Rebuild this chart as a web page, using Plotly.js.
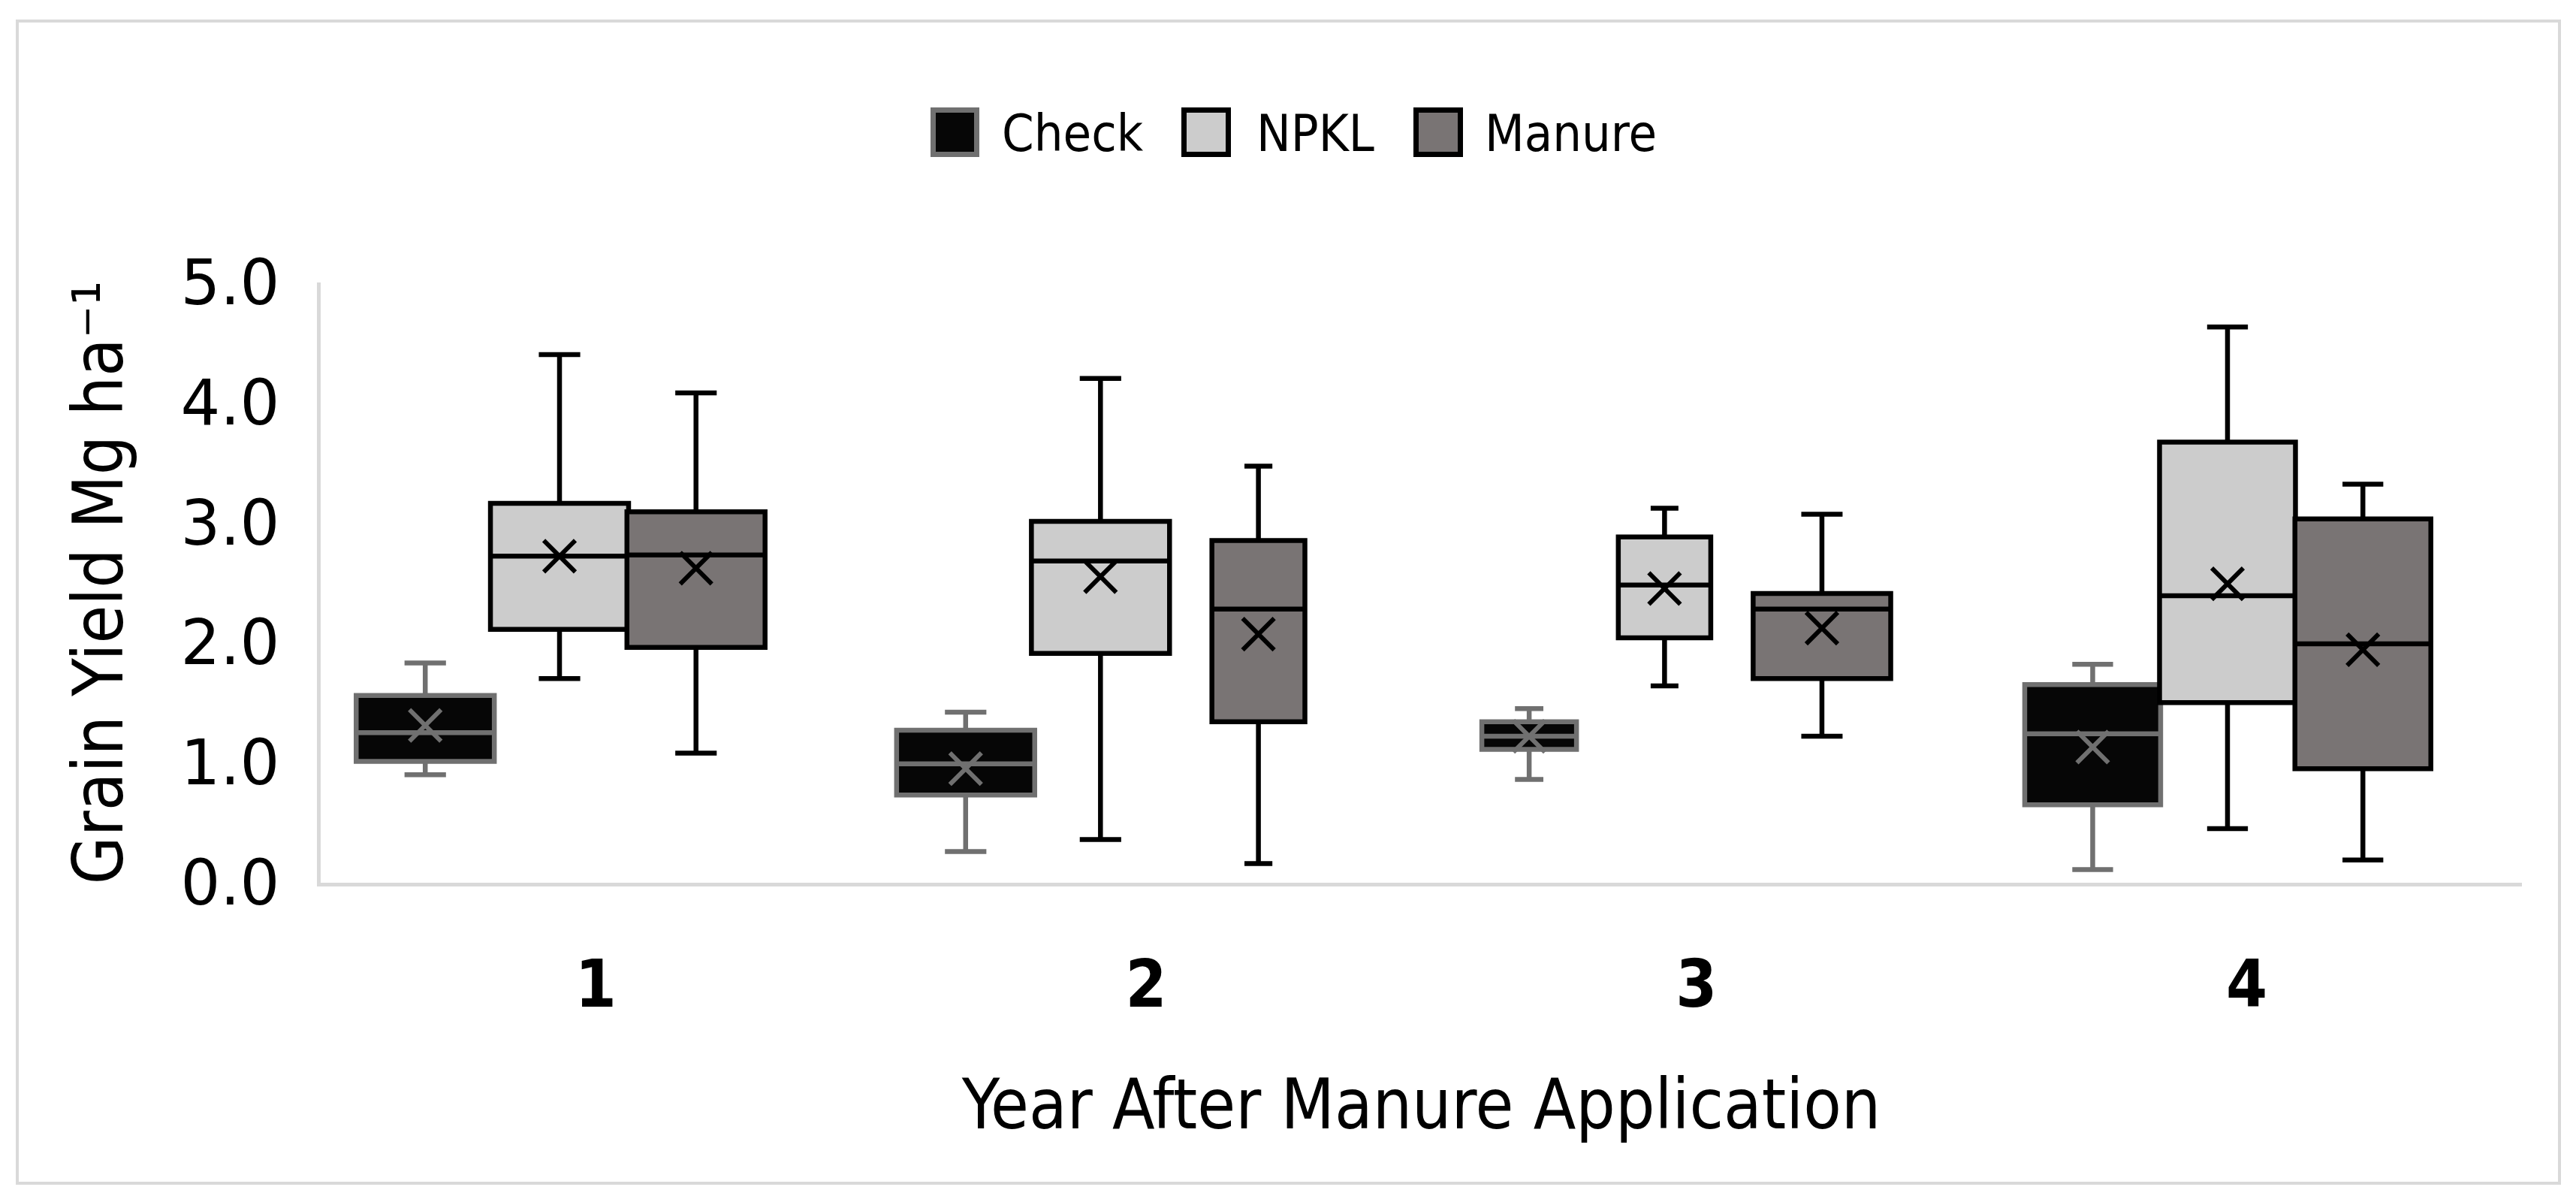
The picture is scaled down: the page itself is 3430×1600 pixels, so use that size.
<!DOCTYPE html>
<html>
<head>
<meta charset="utf-8">
<script src="https://cdn.plot.ly/plotly-3.0.1.min.js"></script>
<style>
  html, body { margin: 0; padding: 0; background: #ffffff; }
  #chart { width: 3430px; height: 1600px; }
</style>
</head>
<body>
<div id="chart"></div>
<script>
// ---------------- DATA ----------------
const years = ['1', '2', '3', '4'];
const seriesNames = ['Check', 'NPKL', 'Manure'];

const checkUpper  = [1.83, 1.42, 1.45, 1.82];
const checkQ3     = [1.56, 1.27, 1.34, 1.65];
const checkMedian = [1.25, 0.99, 1.22, 1.24];
const checkQ1     = [1.01, 0.73, 1.11, 0.65];
const checkLower  = [0.90, 0.26, 0.86, 0.11];
const checkMean   = [1.31, 0.95, 1.22, 1.13];

const npklUpper  = [4.40, 4.20, 3.12, 4.63];
const npklQ3     = [3.16, 3.01, 2.88, 3.67];
const npklMedian = [2.72, 2.68, 2.48, 2.39];
const npklQ1     = [2.11, 1.91, 2.04, 1.50];
const npklLower  = [1.70, 0.36, 1.64, 0.45];
const npklMean   = [2.72, 2.55, 2.45, 2.49];

const manureUpper  = [4.08, 3.47, 3.07, 3.32];
const manureQ3     = [3.09, 2.85, 2.41, 3.03];
const manureMedian = [2.73, 2.28, 2.28, 1.99];
const manureQ1     = [1.96, 1.34, 1.70, 0.95];
const manureLower  = [1.08, 0.16, 1.22, 0.19];
const manureMean   = [2.62, 2.07, 2.12, 1.94];

const yTickVals = [0, 1, 2, 3, 4, 5];

// ---------------- STYLE / LAYOUT ----------------
const stats = {
  Check:  {upper: checkUpper,  q3: checkQ3,  median: checkMedian,  q1: checkQ1,  lower: checkLower,  mean: checkMean},
  NPKL:   {upper: npklUpper,   q3: npklQ3,   median: npklMedian,   q1: npklQ1,   lower: npklLower,   mean: npklMean},
  Manure: {upper: manureUpper, q3: manureQ3, median: manureMedian, q1: manureQ1, lower: manureLower, mean: manureMean}
};

const style = {
  Check:  {fill: '#060606', line: '#707070'},
  NPKL:   {fill: '#cccccc', line: '#000000'},
  Manure: {fill: '#797474', line: '#000000'}
};

// box placement inside each category (category units), per year
const boxOffset = {
  Check:  [-0.310, -0.328, -0.304, -0.280],
  NPKL:   [-0.066, -0.083, -0.058, -0.035],
  Manure: [ 0.182,  0.204,  0.228,  0.211]
};
const boxWidth = {
  Check:  [0.251, 0.251, 0.172, 0.247],
  NPKL:   [0.251, 0.251, 0.168, 0.247],
  Manure: [0.251, 0.169, 0.250, 0.247]
};

const FONT = "'DejaVu Sans Condensed', 'DejaVu Sans', sans-serif";
const PLOT = {l: 427, r: 3358, t: 376, b: 1175, W: 3430, H: 1600};
function px2x(px) { return (px - PLOT.l) / (PLOT.r - PLOT.l); }
function px2y(py) { return (PLOT.b - py) / (PLOT.b - PLOT.t); }

// ---------------- TRACES ----------------
const traces = [];
seriesNames.forEach(function (s) {
  const st = stats[s];
  years.forEach(function (yr, i) {
    const xpos = (i + 1) + boxOffset[s][i];
    traces.push({
      type: 'box',
      name: s,
      legendgroup: s,
      showlegend: false,
      x: [xpos],
      q1: [st.q1[i]],
      median: [st.median[i]],
      q3: [st.q3[i]],
      lowerfence: [st.lower[i]],
      upperfence: [st.upper[i]],
      width: boxWidth[s][i],
      whiskerwidth: 0.3,
      boxpoints: false,
      fillcolor: style[s].fill,
      line: {color: style[s].line, width: 6.5},
      hoverinfo: 'skip'
    });
  });
});
seriesNames.forEach(function (s) {
  traces.push({
    type: 'scatter',
    mode: 'markers',
    name: s + ' mean',
    showlegend: false,
    cliponaxis: false,
    x: years.map(function (yr, i) { return (i + 1) + boxOffset[s][i]; }),
    y: stats[s].mean,
    marker: {
      symbol: 'x-thin-open',
      size: 42,
      color: style[s].line,
      line: {color: style[s].line, width: 6}
    },
    hoverinfo: 'skip'
  });
});

// ---------------- LEGEND (drawn as shapes + text) ----------------
const legendItems = [
  {name: 'Check',  sx0: 1239, sx1: 1304, tx: 1332},
  {name: 'NPKL',   sx0: 1573, sx1: 1639, tx: 1671},
  {name: 'Manure', sx0: 1882, sx1: 1948, tx: 1975}
];
const legendY0 = 143, legendY1 = 209, legendBW = 7;

const shapes = [
  {
    type: 'rect', xref: 'paper', yref: 'paper', layer: 'below',
    x0: px2x(23), x1: px2x(3408), y0: px2y(1575), y1: px2y(28),
    line: {color: '#d9d9d9', width: 4}, fillcolor: 'rgba(0,0,0,0)'
  }
];
const annotations = [];
legendItems.forEach(function (it) {
  shapes.push({
    type: 'rect', xref: 'paper', yref: 'paper', layer: 'above',
    x0: px2x(it.sx0 + legendBW / 2), x1: px2x(it.sx1 - legendBW / 2),
    y0: px2y(legendY1 - legendBW / 2), y1: px2y(legendY0 + legendBW / 2),
    fillcolor: style[it.name].fill,
    line: {color: style[it.name].line, width: legendBW}
  });
  annotations.push({
    xref: 'paper', yref: 'paper', x: px2x(it.tx), y: px2y(177),
    xanchor: 'left', yanchor: 'middle', showarrow: false,
    text: it.name,
    font: {family: FONT, size: 68, color: '#000000'}
  });
});

const layout = {
  width: PLOT.W,
  height: PLOT.H,
  paper_bgcolor: '#ffffff',
  plot_bgcolor: '#ffffff',
  margin: {l: PLOT.l, r: PLOT.W - PLOT.r, t: PLOT.t, b: PLOT.H - PLOT.b, pad: 0},
  boxmode: 'overlay',
  showlegend: false,
  xaxis: {
    range: [0.5, 4.5],
    tickvals: [1, 2, 3, 4],
    ticktext: years,
    ticks: '',
    showgrid: false,
    zeroline: false,
    showline: true,
    linecolor: '#d9d9d9',
    linewidth: 5,
    ticklabelstandoff: 54,
    tickfont: {family: FONT, size: 88, color: '#000000', weight: 'bold'},
    title: {
      text: 'Year After Manure Application',
      font: {family: FONT, size: 92, color: '#000000'},
      standoff: 80
    },
    automargin: false,
    fixedrange: true
  },
  yaxis: {
    range: [0, 5],
    tickvals: yTickVals,
    tickformat: '.1f',
    ticks: '',
    showgrid: false,
    zeroline: false,
    showline: true,
    linecolor: '#d9d9d9',
    linewidth: 5,
    ticklabelstandoff: 33,
    tickfont: {family: "'DejaVu Sans', sans-serif", size: 83, color: '#000000'},
    title: {
      text: 'Grain Yield Mg ha\u207B\u00B9',
      font: {family: FONT, size: 92, color: '#000000'},
      standoff: 48
    },
    automargin: false,
    fixedrange: true
  },
  shapes: shapes,
  annotations: annotations
};

Plotly.newPlot('chart', traces, layout, {displayModeBar: false, staticPlot: true});
</script>
</body>
</html>
